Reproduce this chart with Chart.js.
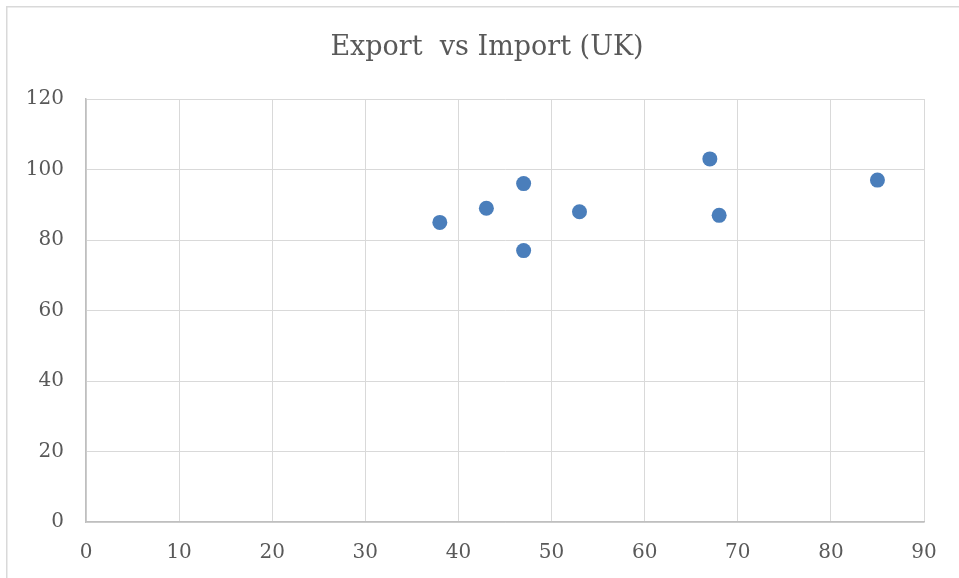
<!DOCTYPE html>
<html>
<head>
<meta charset="utf-8">
<script src="https://cdn.jsdelivr.net/npm/chart.js@4"></script>
<style>
  html, body { margin: 0; padding: 0; background: #ffffff; overflow: hidden; }
  #wrap { position: relative; width: 974px; height: 578px; }
</style>
</head>
<body>
<div id="wrap"><canvas id="c" width="974" height="578"></canvas></div>
<script>
// Export and import figures for each observation
const exportValues = [38, 43, 47, 47, 53, 67, 68, 85];
const importValues = [85, 89, 96, 77, 88, 103, 87, 97];
const xTicks = [0, 10, 20, 30, 40, 50, 60, 70, 80, 90];
const yTicks = [0, 20, 40, 60, 80, 100, 120];
const chartTitle = 'Export  vs Import (UK)';

const points = exportValues.map((x, i) => ({ x: x, y: importValues[i] }));

const textColor = '#595959';
const gridColor = '#d9d9d9';
const axisColor = '#bfbfbf';
const serif = "'DejaVu Serif', 'Liberation Serif', serif";

// light frame around the chart area of the page
const framePlugin = {
  id: 'frame',
  beforeDraw(chart) {
    const ctx = chart.ctx;
    ctx.save();
    ctx.strokeStyle = '#d9d9d9';
    ctx.lineWidth = 1.5;
    ctx.beginPath();
    ctx.moveTo(6.75, chart.height);
    ctx.lineTo(6.75, 6.75);
    ctx.lineTo(chart.width, 6.75);
    ctx.stroke();
    ctx.restore();
  }
};

new Chart(document.getElementById('c'), {
  type: 'scatter',
  data: {
    datasets: [{
      data: points,
      backgroundColor: '#4a7ebb',
      borderWidth: 0,
      pointRadius: 7.5,
      pointHoverRadius: 7.5
    }]
  },
  options: {
    responsive: false,
    animation: false,
    layout: { padding: { left: 0, right: 0, top: 0, bottom: 0 } },
    plugins: {
      legend: { display: false },
      tooltip: { enabled: false },
      title: {
        display: true,
        text: chartTitle,
        color: textColor,
        font: { family: serif, size: 27, weight: 'normal' },
        padding: { top: 32, bottom: 34.6 }
      }
    },
    scales: {
      x: {
        type: 'linear',
        min: xTicks[0],
        max: xTicks[xTicks.length - 1],
        afterBuildTicks(scale) { scale.ticks = xTicks.map(v => ({ value: v })); },
        afterFit(scale) { scale.height = 56; },
        grid: { color: gridColor, lineWidth: 1, drawTicks: false },
        border: { color: axisColor, width: 1.5 },
        ticks: { color: textColor, font: { family: serif, size: 20 }, padding: 19, maxRotation: 0 }
      },
      y: {
        type: 'linear',
        min: yTicks[0],
        max: yTicks[yTicks.length - 1],
        afterBuildTicks(scale) { scale.ticks = yTicks.map(v => ({ value: v })); },
        afterFit(scale) { scale.width = 86; },
        grid: { color: gridColor, lineWidth: 1, drawTicks: false },
        border: { color: axisColor, width: 1.5 },
        ticks: { color: textColor, font: { family: serif, size: 20 }, padding: 22 }
      },
      // empty margin on the right of the plot
      yRight: {
        type: 'linear',
        position: 'right',
        afterFit(scale) { scale.width = 50; },
        grid: { display: false, drawTicks: false },
        border: { display: false },
        ticks: { display: false }
      }
    }
  },
  plugins: [framePlugin]
});
</script>
</body>
</html>
